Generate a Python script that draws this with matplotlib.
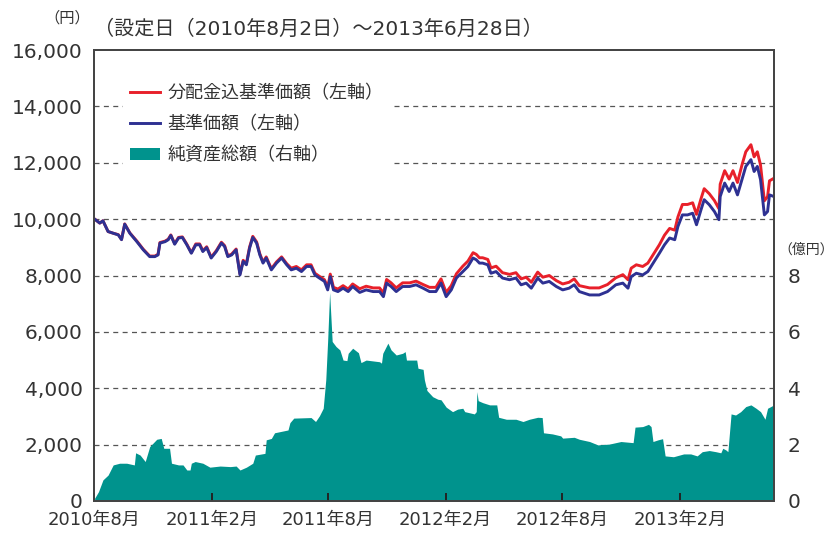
import matplotlib
matplotlib.use('Agg')
import matplotlib.pyplot as plt
import pandas as pd

plt.rcParams['font.family'] = ['DejaVu Sans', 'Noto Sans CJK JP']

# 基準価額 / 分配金込基準価額 (円)
line_dates = [
    '2010-08-02', '2010-08-10', '2010-08-15', '2010-08-23', '2010-08-31', '2010-09-08', '2010-09-13',
    '2010-09-18', '2010-09-26', '2010-10-07', '2010-10-17', '2010-10-27', '2010-11-04', '2010-11-09',
    '2010-11-12', '2010-11-20', '2010-11-25', '2010-11-29', '2010-12-05', '2010-12-11', '2010-12-17',
    '2010-12-24', '2010-12-31', '2011-01-07', '2011-01-13', '2011-01-18', '2011-01-24', '2011-01-31',
    '2011-02-08', '2011-02-16', '2011-02-21', '2011-02-26', '2011-03-04', '2011-03-11', '2011-03-17',
    '2011-03-22', '2011-03-27', '2011-04-01', '2011-04-06', '2011-04-12', '2011-04-17', '2011-04-22',
    '2011-04-27', '2011-05-05', '2011-05-13', '2011-05-21', '2011-05-29', '2011-06-05', '2011-06-13',
    '2011-06-21', '2011-06-29', '2011-07-06', '2011-07-12', '2011-07-19', '2011-07-27', '2011-08-01',
    '2011-08-05', '2011-08-10', '2011-08-17', '2011-08-25', '2011-09-02', '2011-09-09', '2011-09-20',
    '2011-09-30', '2011-10-11', '2011-10-21', '2011-10-27', '2011-11-01', '2011-11-08', '2011-11-16',
    '2011-11-26', '2011-12-07', '2011-12-17', '2011-12-28', '2012-01-07', '2012-01-17', '2012-01-25',
    '2012-02-02', '2012-02-10', '2012-02-18', '2012-02-28', '2012-03-07', '2012-03-15', '2012-03-20',
    '2012-03-25', '2012-03-30', '2012-04-07', '2012-04-12', '2012-04-20', '2012-04-30', '2012-05-11',
    '2012-05-21', '2012-05-29', '2012-06-06', '2012-06-14', '2012-06-24', '2012-07-02', '2012-07-12',
    '2012-07-23', '2012-08-02', '2012-08-12', '2012-08-20', '2012-08-28', '2012-09-13', '2012-09-28',
    '2012-10-11', '2012-10-24', '2012-11-04', '2012-11-12', '2012-11-17', '2012-11-25', '2012-12-05',
    '2012-12-13', '2012-12-23', '2012-12-31', '2013-01-08', '2013-01-16', '2013-01-24', '2013-01-29',
    '2013-02-05', '2013-02-13', '2013-02-21', '2013-02-27', '2013-03-06', '2013-03-11', '2013-03-19',
    '2013-03-27', '2013-04-03', '2013-04-05', '2013-04-12', '2013-04-19', '2013-04-25', '2013-05-02',
    '2013-05-09', '2013-05-15', '2013-05-23', '2013-05-28', '2013-06-02', '2013-06-07', '2013-06-13',
    '2013-06-18', '2013-06-21', '2013-06-28',
]
nav = [
    10000, 9860, 9940, 9560, 9500, 9440, 9270, 9820, 9500, 9200, 8910, 8670, 8670, 8730,
    9150, 9200, 9270, 9420, 9110, 9330, 9350, 9090, 8790, 9090, 9090, 8850, 8990, 8620,
    8850, 9150, 9030, 8670, 8730, 8910, 8020, 8500, 8380, 8970, 9350, 9150, 8730, 8440,
    8620, 8200, 8440, 8620, 8380, 8200, 8260, 8140, 8320, 8320, 8020, 7910, 7790, 7490,
    7960, 7490, 7430, 7550, 7430, 7610, 7400, 7490, 7430, 7430, 7250, 7730, 7610, 7430,
    7610, 7610, 7670, 7550, 7430, 7430, 7730, 7250, 7490, 7910, 8140, 8320, 8620, 8560,
    8440, 8440, 8380, 8080, 8140, 7910, 7850, 7910, 7670, 7730, 7550, 7910, 7730, 7790,
    7610, 7490, 7550, 7670, 7430, 7310, 7310, 7430, 7670, 7730, 7550, 7960, 8080, 8020,
    8140, 8500, 8790, 9090, 9330, 9270, 9740, 10150, 10150, 10210, 9800, 10330, 10690, 10510,
    10270, 9980, 10800, 11280, 10980, 11280, 10860, 11400, 11870, 12110, 11690, 11870, 11400, 10150,
    10270, 10860, 10800,
]
nav_with_dist = [
    10000, 9860, 9940, 9560, 9500, 9450, 9280, 9830, 9510, 9220, 8930, 8690, 8690, 8750,
    9170, 9220, 9290, 9440, 9130, 9350, 9370, 9110, 8810, 9120, 9120, 8880, 9020, 8650,
    8880, 9180, 9060, 8700, 8760, 8940, 8060, 8540, 8420, 9010, 9390, 9190, 8770, 8480,
    8660, 8240, 8480, 8660, 8420, 8260, 8320, 8200, 8380, 8380, 8080, 7970, 7850, 7580,
    8050, 7580, 7520, 7640, 7520, 7700, 7530, 7620, 7560, 7560, 7380, 7860, 7740, 7560,
    7740, 7740, 7800, 7680, 7580, 7580, 7880, 7400, 7640, 8060, 8330, 8510, 8810, 8750,
    8630, 8630, 8570, 8270, 8330, 8100, 8040, 8100, 7880, 7940, 7760, 8120, 7940, 8000,
    7820, 7700, 7760, 7880, 7640, 7560, 7560, 7680, 7920, 8030, 7850, 8260, 8380, 8320,
    8440, 8800, 9090, 9430, 9670, 9610, 10080, 10520, 10520, 10580, 10170, 10720, 11080, 10900,
    10660, 10370, 11240, 11720, 11420, 11720, 11300, 11920, 12390, 12640, 12210, 12390, 11920, 10650,
    10800, 11360, 11450,
]

# 純資産総額 (億円)
asset_dates = [
    '2010-08-02', '2010-08-08', '2010-08-15', '2010-08-23', '2010-08-31', '2010-09-10', '2010-09-21',
    '2010-10-03', '2010-10-05', '2010-10-12', '2010-10-20', '2010-10-27', '2010-11-07', '2010-11-14',
    '2010-11-18', '2010-11-27', '2010-11-30', '2010-12-11', '2010-12-18', '2010-12-24', '2010-12-29',
    '2010-12-31', '2011-01-06', '2011-01-18', '2011-01-29', '2011-02-14', '2011-03-02', '2011-03-11',
    '2011-03-17', '2011-03-27', '2011-04-06', '2011-04-10', '2011-04-25', '2011-04-27', '2011-05-05',
    '2011-05-10', '2011-05-31', '2011-06-03', '2011-06-09', '2011-07-06', '2011-07-13', '2011-07-19',
    '2011-07-25', '2011-07-29', '2011-08-01', '2011-08-04', '2011-08-08', '2011-08-14', '2011-08-20',
    '2011-08-25', '2011-08-31', '2011-09-02', '2011-09-09', '2011-09-18', '2011-09-22', '2011-09-30',
    '2011-10-21', '2011-10-24', '2011-10-26', '2011-11-03', '2011-11-08', '2011-11-16', '2011-11-26',
    '2011-11-30', '2011-12-02', '2011-12-18', '2011-12-20', '2011-12-28', '2011-12-30', '2012-01-03',
    '2012-01-12', '2012-01-20', '2012-01-25', '2012-02-02', '2012-02-12', '2012-02-20', '2012-02-28',
    '2012-03-02', '2012-03-17', '2012-03-20', '2012-03-21', '2012-03-23', '2012-03-30', '2012-04-10',
    '2012-04-21', '2012-04-24', '2012-05-06', '2012-05-21', '2012-06-01', '2012-06-11', '2012-06-24',
    '2012-07-01', '2012-07-03', '2012-07-17', '2012-07-30', '2012-08-02', '2012-08-20', '2012-08-28',
    '2012-09-13', '2012-09-26', '2012-10-14', '2012-11-01', '2012-11-20', '2012-11-23', '2012-12-05',
    '2012-12-14', '2012-12-18', '2012-12-21', '2012-12-29', '2013-01-05', '2013-01-09', '2013-01-22',
    '2013-02-07', '2013-02-18', '2013-02-28', '2013-03-08', '2013-03-19', '2013-03-29', '2013-04-06',
    '2013-04-09', '2013-04-14', '2013-04-17', '2013-04-22', '2013-04-29', '2013-05-07', '2013-05-15',
    '2013-05-23', '2013-05-31', '2013-06-07', '2013-06-14', '2013-06-18', '2013-06-23', '2013-06-28',
]
net_assets = [
    0.10, 0.33, 0.75, 0.92, 1.28, 1.34, 1.34, 1.28, 1.71, 1.63, 1.40, 1.93, 2.19, 2.22,
    1.87, 1.87, 1.34, 1.28, 1.28, 1.10, 1.10, 1.34, 1.40, 1.34, 1.20, 1.24, 1.22, 1.24,
    1.10, 1.20, 1.34, 1.63, 1.69, 2.17, 2.22, 2.42, 2.52, 2.78, 2.94, 2.96, 2.82, 3.02,
    3.29, 4.30, 5.72, 7.40, 5.66, 5.48, 5.36, 5.00, 4.98, 5.24, 5.42, 5.26, 4.91, 5.00,
    4.94, 4.89, 5.24, 5.60, 5.36, 5.18, 5.24, 5.30, 5.00, 5.00, 4.71, 4.67, 4.30, 3.92,
    3.70, 3.61, 3.59, 3.33, 3.17, 3.26, 3.29, 3.17, 3.09, 3.17, 3.88, 3.56, 3.49, 3.41,
    3.41, 2.97, 2.90, 2.90, 2.82, 2.90, 2.97, 2.96, 2.42, 2.38, 2.31, 2.23, 2.26, 2.19,
    2.11, 1.99, 2.02, 2.11, 2.07, 2.62, 2.64, 2.72, 2.64, 2.11, 2.17, 2.21, 1.60, 1.57,
    1.67, 1.67, 1.60, 1.75, 1.79, 1.75, 1.71, 1.87, 1.81, 1.75, 3.09, 3.05, 3.17, 3.35,
    3.41, 3.29, 3.17, 2.90, 3.29, 3.35, 3.41,
]

x_ticks = ['2010-08-01', '2011-02-01', '2011-08-01', '2012-02-01', '2012-08-01', '2013-02-01']
x_tick_labels = ['2010年8月', '2011年2月', '2011年8月', '2012年2月', '2012年8月', '2013年2月']
left_ticks = [0, 2000, 4000, 6000, 8000, 10000, 12000, 14000, 16000]
right_ticks = [0, 2, 4, 6, 8]

RED = '#e8202a'
BLUE = '#2e3192'
TEAL = '#00938d'
TXT = '#333333'

fig = plt.figure(figsize=(8.4, 5.36), dpi=100)
ax = fig.add_axes([0.1119, 0.0653, 0.8095, 0.8414])
ax2 = ax.twinx()
# lines on top, area (and grid) underneath
ax.set_zorder(ax2.get_zorder() + 1)
ax.patch.set_visible(False)

ax2.fill_between(pd.to_datetime(asset_dates), net_assets, color=TEAL, lw=0, label='純資産総額（右軸）')
ax2.set_ylim(0, 16)
ax2.set_yticks(list(range(0, 16, 2)))
ax2.set_yticklabels([str(v) if v in right_ticks else '' for v in range(0, 16, 2)])
ax2.set_axisbelow(True)
ax2.grid(axis='y', color='#555555', lw=0.9, ls=(0, (4, 3.5)))
ax2.tick_params(axis='y', length=0, pad=10, labelsize=14.5, colors=TXT)

x = pd.to_datetime(line_dates)
ax.plot(x, nav_with_dist, color=RED, lw=2.1, label='分配金込基準価額（左軸）')
ax.plot(x, nav, color=BLUE, lw=2.1, label='基準価額（左軸）')
ax.set_ylim(0, 16000)
ax.set_yticks(left_ticks)
ax.set_yticklabels([f'{v:,}' for v in left_ticks])
ax.tick_params(axis='y', length=0, pad=8, labelsize=14.5, colors=TXT)
ax.set_xlim(pd.Timestamp('2010-08-01'), pd.Timestamp('2013-06-28'))
ax.set_xticks(pd.to_datetime(x_ticks))
ax.set_xticklabels(x_tick_labels)
ax.tick_params(axis='x', direction='in', length=6, width=1.4, color='#222222',
               pad=7, labelsize=13, labelcolor=TXT)
ax2.tick_params(axis='x', length=0)

for a in (ax, ax2):
    for s in a.spines.values():
        s.set_color('#444444')
        s.set_linewidth(1.3)

ax.text(-0.04, 17150, '（円）', transform=ax.get_yaxis_transform(), ha='center', va='center',
        fontsize=11, color=TXT)
ax.text(1.048, 8.9, '（億円）', transform=ax2.get_yaxis_transform(), ha='center', va='center',
        fontsize=10, color=TXT)
ax.text(0.0, 16720, '（設定日（2010年8月2日）～2013年6月28日）', transform=ax.get_yaxis_transform(),
        ha='left', va='center', fontsize=14.5, color=TXT)

h1, l1 = ax.get_legend_handles_labels()
h2, l2 = ax2.get_legend_handles_labels()
leg = ax.legend(h1 + h2, l1 + l2, loc='upper left', bbox_to_anchor=(0.042, 0.94),
                fontsize=13, frameon=True, facecolor='white', edgecolor='none', framealpha=1,
                handlelength=1.7, handleheight=0.65, handletextpad=0.4, labelspacing=0.72,
                borderpad=0.4, borderaxespad=0)
for t in leg.get_texts():
    t.set_color(TXT)

fig.savefig('out.png', dpi=100)
